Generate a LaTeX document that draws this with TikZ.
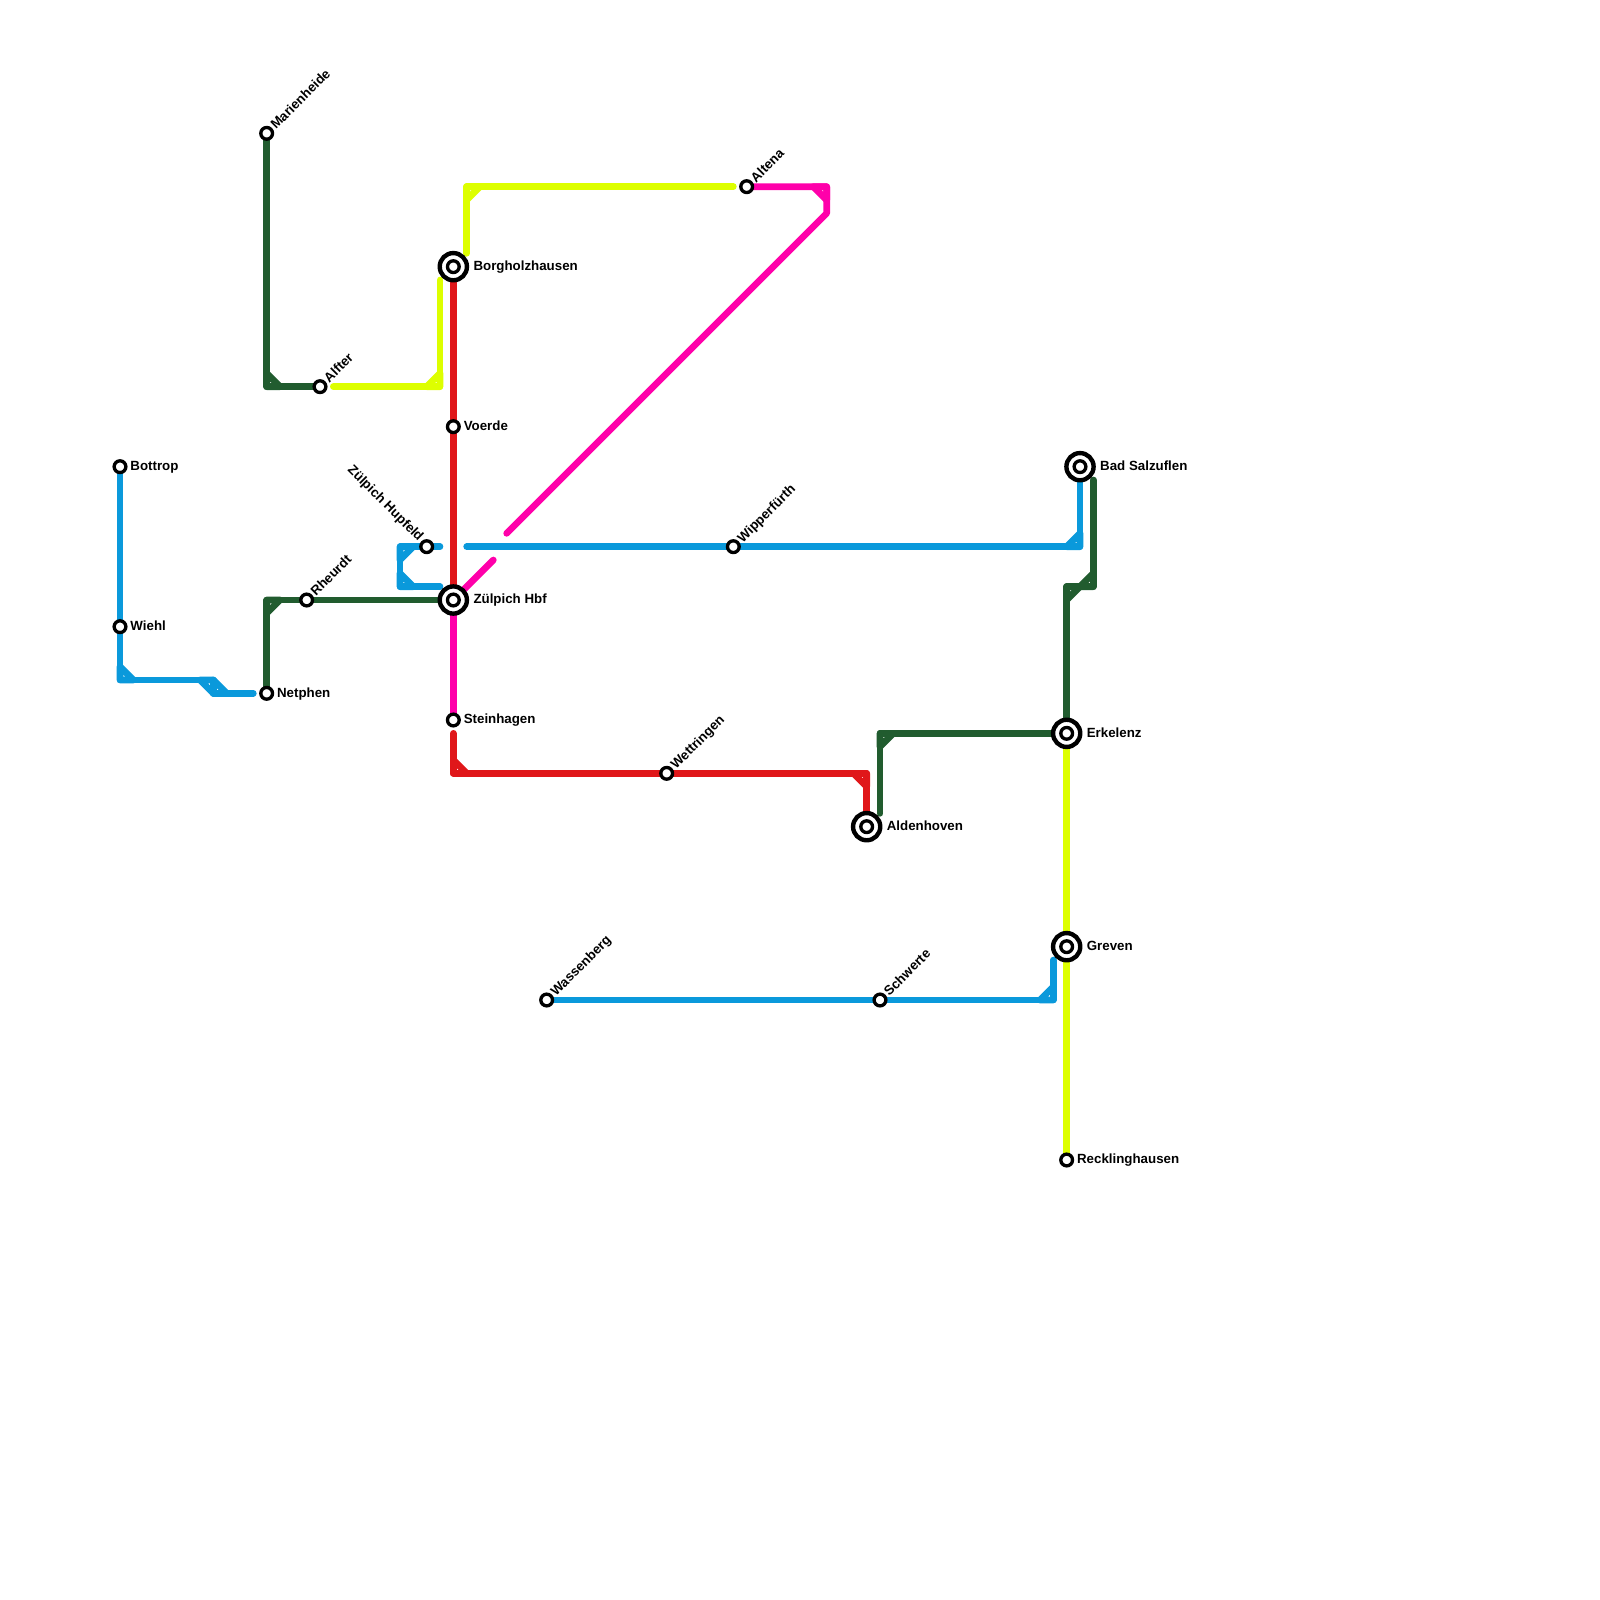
\documentclass[tikz,border=0pt]{standalone}
\usepackage{fontspec}
\setmainfont{Liberation Sans}
\pgfdeclarelayer{rails}
\pgfsetlayers{rails,main}
\definecolor{lblue}{HTML}{0A99DB}
\definecolor{lred}{HTML}{E0171A}
\definecolor{lgreen}{HTML}{215C2F}
\definecolor{lyellow}{HTML}{DDFF00}
\definecolor{lpink}{HTML}{FF00AA}
\tikzset{
  rail/.style={line width=0.25cm,line cap=round,line join=round},
  railb/.style={rail,lblue}, railr/.style={rail,lred}, railg/.style={rail,lgreen},
  raily/.style={rail,lyellow}, railp/.style={rail,lpink},
  stn/.style={circle,draw=black,fill=white,line width=0.125cm,minimum size=0.44cm,inner sep=0pt},
  hub/.style={circle,draw=black,fill=white,line width=0.165cm,minimum size=1.02cm,inner sep=0pt},
  lab/.style={font=\fontsize{14.2pt}{14.2pt}\selectfont\bfseries,inner sep=0pt,anchor=base west},
  labup/.style={lab,rotate=45},
  labdn/.style={font=\fontsize{14.2pt}{14.2pt}\selectfont\bfseries,inner sep=0pt,anchor=base east,rotate=-45}
}
\begin{document}
\begin{tikzpicture}[x=0.5cm,y=-0.5cm]
\useasboundingbox (0,0) rectangle (120,120);
% interchange rings
\node[hub] (borgO) at (34,20) {};
\node[hub] (hbfO) at (34,45) {};
\node[hub] (saluO) at (81,35) {};
\node[hub] (erkO) at (80,55) {};
\node[hub] (aldeO) at (65,62) {};
\node[hub] (grevO) at (80,71) {};
% stations
\node[stn] (bottrop) at (9,35) {};
\node[stn] (wiehl) at (9,47) {};
\node[stn] (marien) at (20,10) {};
\node[stn] (alfter) at (24,29) {};
\node[stn] (netphen) at (20,52) {};
\node[stn] (rheurdt) at (23,45) {};
\node[stn] (borg) at (34,20) {};
\node[stn] (voerde) at (34,32) {};
\node[stn] (hupfeld) at (32,41) {};
\node[stn] (hbf) at (34,45) {};
\node[stn] (stein) at (34,54) {};
\node[stn] (wasser) at (41,75) {};
\node[stn] (wett) at (50,58) {};
\node[stn] (altena) at (56,14) {};
\node[stn] (wipper) at (55,41) {};
\node[stn] (schwerte) at (66,75) {};
\node[stn] (alden) at (65,62) {};
\node[stn] (erk) at (80,55) {};
\node[stn] (greven) at (80,71) {};
\node[stn] (reck) at (80,87) {};
\node[stn] (salu) at (81,35) {};
% labels
\node[lab] (t1) at (9.77,35.29) {Bottrop};
\node[lab] (t2) at (9.77,47.29) {Wiehl};
\node[lab] (t3) at (20.77,52.29) {Netphen};
\node[lab] (t4) at (34.77,32.29) {Voerde};
\node[lab] (t5) at (34.77,54.29) {Steinhagen};
\node[lab] (t6) at (80.77,87.29) {Recklinghausen};
\node[lab] (t7) at (35.5,20.29) {Borgholzhausen};
\node[lab] (t8) at (35.5,45.29) {Zülpich Hbf};
\node[lab] (t9) at (82.5,35.29) {Bad Salzuflen};
\node[lab] (t10) at (81.5,55.29) {Erkelenz};
\node[lab] (t11) at (81.5,71.29) {Greven};
\node[lab] (t12) at (66.5,62.29) {Aldenhoven};
\node[labup] (t13) at (20.7,9.75) {Marienheide};
\node[labup] (t14) at (24.7,28.75) {Alfter};
\node[labup] (t15) at (23.7,44.75) {Rheurdt};
\node[labup] (t16) at (41.7,74.75) {Wassenberg};
\node[labup] (t17) at (50.7,57.75) {Wettringen};
\node[labup] (t18) at (55.7,40.75) {Wipperfürth};
\node[labup] (t19) at (56.7,13.75) {Altena};
\node[labup] (t20) at (66.7,74.75) {Schwerte};
\node[labdn] (t21) at (31.37,40.64) {Zülpich Hupfeld};
% waypoints
\coordinate (g1a) at (20,29); \coordinate (g1b) at (20,28); \coordinate (g1c) at (21,29);
\coordinate (y1s) at (25,29); \coordinate (y1a) at (33,29); \coordinate (y1e) at (33,21);
\coordinate (y1b) at (32,29); \coordinate (y1c) at (33,28);
\coordinate (y2s) at (35,19); \coordinate (y2a) at (35,14); \coordinate (y2e) at (55,14);
\coordinate (y2b) at (35,15); \coordinate (y2c) at (36,14);
\coordinate (b1a) at (9,51); \coordinate (b1b) at (9,50); \coordinate (b1c) at (10,51);
\coordinate (b1d) at (15,51); \coordinate (b1f) at (16,51); \coordinate (b1g) at (16,52);
\coordinate (b1h) at (17,52); \coordinate (b1e) at (19,52);
\coordinate (b2s) at (33,41); \coordinate (b2a) at (30,41); \coordinate (b2b) at (30,44);
\coordinate (b2e) at (33,44); \coordinate (b2c) at (30,42); \coordinate (b2d) at (31,41);
\coordinate (b2f) at (30,43); \coordinate (b2g) at (31,44);
\coordinate (b3s) at (35,41); \coordinate (b3a) at (81,41); \coordinate (b3b) at (80,41); \coordinate (b3c) at (81,40);
\coordinate (b4e) at (79,72); \coordinate (b4a) at (79,75); \coordinate (b4b) at (78,75); \coordinate (b4c) at (79,74);
\coordinate (g2a) at (20,45); \coordinate (g2b) at (20,46); \coordinate (g2c) at (21,45);
\coordinate (g3s) at (66,61); \coordinate (g3a) at (66,55); \coordinate (g3b) at (66,56); \coordinate (g3c) at (67,55);
\coordinate (g4a) at (80,44); \coordinate (g4b) at (82,44); \coordinate (g4e) at (82,36);
\coordinate (g4c) at (80,45); \coordinate (g4d) at (81,44); \coordinate (g4f) at (82,43);
\coordinate (r1s) at (34,55); \coordinate (r1a) at (34,58); \coordinate (r1b) at (65,58);
\coordinate (r1c) at (34,57); \coordinate (r1d) at (35,58); \coordinate (r1f) at (64,58); \coordinate (r1g) at (65,59);
\coordinate (p1e) at (37,42); \coordinate (p2s) at (38,40); \coordinate (p2a) at (62,16); \coordinate (p2b) at (62,14);
\coordinate (p2c) at (61,14); \coordinate (p2d) at (62,15);
\begin{pgfonlayer}{rails}
% blue
\draw[railb] (bottrop.center) -- (wiehl.center) -- (b1a) -- (b1f) -- (b1g) -- (b1e);
\draw[railb] (b1b) -- (b1a) -- (b1c) -- cycle;
\draw[railb] (b1d) -- (b1f) -- (b1g) -- cycle;
\draw[railb] (b1f) -- (b1g) -- (b1h) -- cycle;
\draw[railb] (b2s) -- (hupfeld.center) -- (b2a) -- (b2b) -- (b2e);
\draw[railb] (b2a) -- (b2c) -- (b2d) -- cycle;
\draw[railb] (b2b) -- (b2f) -- (b2g) -- cycle;
\draw[railb] (b3s) -- (wipper.center) -- (b3a) -- (salu.center);
\draw[railb] (b3a) -- (b3b) -- (b3c) -- cycle;
\draw[railb] (wasser.center) -- (schwerte.center) -- (b4a) -- (b4e);
\draw[railb] (b4a) -- (b4b) -- (b4c) -- cycle;
% green
\draw[railg] (marien.center) -- (g1a) -- (alfter.center);
\draw[railg] (g1a) -- (g1b) -- (g1c) -- cycle;
\draw[railg] (netphen.center) -- (g2a) -- (rheurdt.center) -- (hbf.center);
\draw[railg] (g2a) -- (g2b) -- (g2c) -- cycle;
\draw[railg] (g3s) -- (g3a) -- (erk.center) -- (g4a) -- (g4b) -- (g4e);
\draw[railg] (g3a) -- (g3b) -- (g3c) -- cycle;
\draw[railg] (g4a) -- (g4c) -- (g4d) -- cycle;
\draw[railg] (g4b) -- (g4d) -- (g4f) -- cycle;
% yellow
\draw[raily] (y1s) -- (y1a) -- (y1e);
\draw[raily] (y1a) -- (y1b) -- (y1c) -- cycle;
\draw[raily] (y2s) -- (y2a) -- (y2e);
\draw[raily] (y2a) -- (y2b) -- (y2c) -- cycle;
\draw[raily] (erk.center) -- (greven.center) -- (reck.center);
% red
\draw[railr] (borg.center) -- (voerde.center) -- (hbf.center);
\draw[railr] (r1s) -- (r1a) -- (wett.center) -- (r1b) -- (alden.center);
\draw[railr] (r1a) -- (r1c) -- (r1d) -- cycle;
\draw[railr] (r1b) -- (r1f) -- (r1g) -- cycle;
% pink
\draw[railp] (hbf.center) -- (stein.center);
\draw[railp] (hbf.center) -- (p1e);
\draw[railp] (p2s) -- (p2a) -- (p2b) -- (altena.center);
\draw[railp] (p2b) -- (p2c) -- (p2d) -- cycle;
\end{pgfonlayer}
\end{tikzpicture}
\end{document}
